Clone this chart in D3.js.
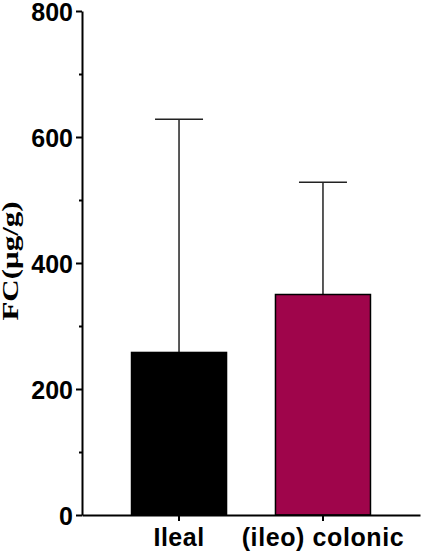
<!DOCTYPE html>
<html>
<head>
<meta charset="utf-8">
<script src="https://cdn.jsdelivr.net/npm/d3@7"></script>
<style>
  body { margin: 0; background: #fff; }
  .tick text { font-family: "Liberation Sans", Arial, sans-serif; font-weight: bold; }
</style>
</head>
<body>
<div id="chart"></div>
<script>
// Data
var groups = ["Ileal", "(ileo) colonic"]
var means = [258, 350]
var upper = [628, 528]
var colors = ["#000000", "#9f054b"]
var majorTicks = [0, 200, 400, 600, 800]
var minorTicks = [100, 300, 500, 700]

var width = 422, height = 555

var svg = d3.select("#chart").append("svg")
    .attr("width", width)
    .attr("height", height)

var x = d3.scaleBand()
  .domain(groups)
  .range([82, 420])
  .paddingInner(0.34)
  .paddingOuter(0.344)

var y = d3.scaleLinear()
  .domain([0, 800])
  .range([515, 11])

var data = groups.map(function (g, i) {
  return { name: g, mean: means[i], hi: upper[i], color: colors[i] }
})

// Error bars (drawn first so the bar sits on top)
var err = svg.selectAll(".err")
  .data(data)
  .enter().append("g")
  .attr("class", "err")
  .attr("stroke", "#222")
  .attr("stroke-width", 1.5)

err.append("line")
  .attr("x1", function (d) { return x(d.name) + x.bandwidth() / 2 })
  .attr("x2", function (d) { return x(d.name) + x.bandwidth() / 2 })
  .attr("y1", function (d) { return y(d.mean) })
  .attr("y2", function (d) { return y(d.hi) })

err.append("line")
  .attr("x1", function (d) { return x(d.name) + x.bandwidth() / 2 - 24 })
  .attr("x2", function (d) { return x(d.name) + x.bandwidth() / 2 + 24 })
  .attr("y1", function (d) { return y(d.hi) })
  .attr("y2", function (d) { return y(d.hi) })

// Bars
svg.selectAll(".bar")
  .data(data)
  .enter().append("rect")
  .attr("class", "bar")
  .attr("x", function (d) { return x(d.name) })
  .attr("width", x.bandwidth())
  .attr("y", function (d) { return y(d.mean) })
  .attr("height", function (d) { return y(0) - y(d.mean) })
  .attr("fill", function (d) { return d.color })
  .attr("stroke", "#000")
  .attr("stroke-width", 1.5)

// Y axis, minor ticks first
svg.append("g")
  .attr("transform", "translate(82,0)")
  .call(d3.axisLeft(y).tickValues(minorTicks).tickSize(3).tickFormat(""))
  .call(function (g) { g.select(".domain").remove() })
  .selectAll("line").attr("stroke-width", 2)

var yAxis = svg.append("g")
  .attr("transform", "translate(82,0)")
  .call(d3.axisLeft(y).tickValues(majorTicks).tickSize(6).tickSizeOuter(0).tickPadding(3))

yAxis.select(".domain").attr("stroke-width", 2)
yAxis.selectAll(".tick line").attr("stroke-width", 2)
yAxis.selectAll(".tick text").attr("font-size", 25).attr("fill", "#000").attr("dy", "0.38em")

// X axis
var xAxis = svg.append("g")
  .attr("transform", "translate(0,515)")
  .call(d3.axisBottom(x).tickSize(6).tickSizeOuter(0).tickPadding(7))

xAxis.select(".domain").attr("stroke-width", 2)
xAxis.selectAll(".tick line").attr("stroke-width", 2)
xAxis.selectAll(".tick text").attr("font-size", 25).attr("fill", "#000")
  .attr("letter-spacing", function (d) { return d === "Ileal" ? 0.5 : 0.6 })

// Y label (narrow, as in the reference)
svg.append("text")
  .attr("transform", "translate(18,261) scale(0.72,1) rotate(-90)")
  .attr("text-anchor", "middle")
  .attr("font-family", "'Liberation Serif', 'Times New Roman', serif")
  .attr("font-weight", "bold")
  .attr("font-size", 31)
  .text("FC(μg/g)")
</script>
</body>
</html>
